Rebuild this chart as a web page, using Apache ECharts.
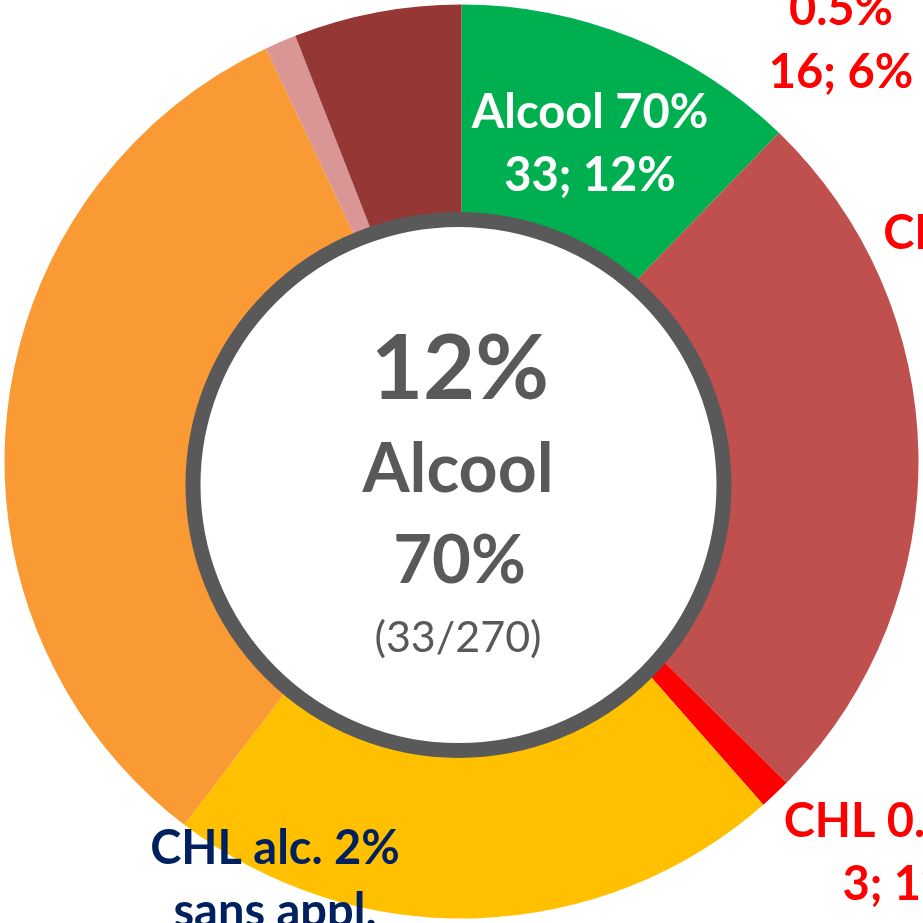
<!DOCTYPE html>
<html>
<head>
<meta charset="utf-8">
<title>Alcool 70%</title>
<script src="https://cdn.jsdelivr.net/npm/echarts@6/dist/echarts.min.js"></script>
<style>
    html, body { margin: 0; padding: 0; background: #fff; }
    #main { width: 923px; height: 923px; }
</style>
</head>
<body>
<div id="main"></div>
<script>
// données
var categories = ['Alcool 70%', 'CHL alc. 2% avec appl.', 'CHL 0.05%', 'CHL alc. 2%\nsans appl.', 'PVI alc.', 'PVI aq.', 'CHL alc.\n0.5%'];
var values = [33, 68, 3, 59, 88, 3, 16];
var sliceColors = ['#00B050', '#C0504D', '#FF0000', '#FFC000', '#FA9A35', '#D99694', '#953735'];
var labelColors = ['#FFFFFF', '#FF0000', '#FF0000', '#002060', '#F79646', '#FF0000', '#FF0000'];
var highlight = 0; // catégorie mise en avant au centre

// positions des étiquettes (centre x, haut du bloc)
var labelPos = [[590, 81], [1117, 202], [901, 790], [275, 817], [-400, -400], [-18, -110], [841, -85]];

(function () {
    var myChart = echarts.init(document.getElementById('main'));
    var total = values.reduce(function (a, b) { return a + b; }, 0);
    var pct = Math.round(values[highlight] / total * 100);
    var nameParts = categories[highlight].split(' ');

    var option = {
        backgroundColor: '#fff',
        animation: false,
        series: [
            {
                type: 'pie',
                center: [461.5, 461.5],
                radius: [240, 457],
                startAngle: 90,
                clockwise: true,
                avoidLabelOverlap: false,
                percentPrecision: 0,
                silent: true,
                label: {
                    show: true,
                    formatter: '{b}\n{c}; {d}%',
                    fontFamily: 'Lato',
                    fontWeight: 'bold',
                    fontSize: 47,
                    lineHeight: 63
                },
                labelLine: { show: false },
                labelLayout: function (params) {
                    var p = labelPos[params.dataIndex];
                    return { x: p[0], y: p[1], align: 'center', verticalAlign: 'top', hideOverlap: false };
                },
                data: categories.map(function (name, i) {
                    return {
                        name: name,
                        value: values[i],
                        itemStyle: { color: sliceColors[i] },
                        label: { color: labelColors[i], show: i !== 4 }
                    };
                })
            }
        ],
        graphic: [
            {
                type: 'circle',
                z: 10,
                shape: { cx: 458.5, cy: 485, r: 265.5 },
                style: { fill: '#fff', stroke: '#595959', lineWidth: 15 }
            },
            {
                type: 'text', z: 11, x: 460, y: 370,
                style: { text: pct + '%', fill: '#595959', font: 'bold 90px Lato', align: 'center', verticalAlign: 'middle' }
            },
            {
                type: 'text', z: 11, x: 458, y: 470,
                style: { text: nameParts[0], fill: '#595959', font: 'bold 68px Lato', align: 'center', verticalAlign: 'middle' }
            },
            {
                type: 'text', z: 11, x: 459.5, y: 561,
                style: { text: nameParts.slice(1).join(' '), fill: '#595959', font: 'bold 67px Lato', align: 'center', verticalAlign: 'middle' }
            },
            {
                type: 'text', z: 11, x: 458, y: 638,
                style: { text: '(' + values[highlight] + '/' + total + ')', fill: '#595959', font: '43px Lato', align: 'center', verticalAlign: 'middle' }
            }
        ]
    };
    myChart.setOption(option);
    window.addEventListener('resize', function () {
        myChart.resize();
    });
})();
</script>
</body>
</html>
